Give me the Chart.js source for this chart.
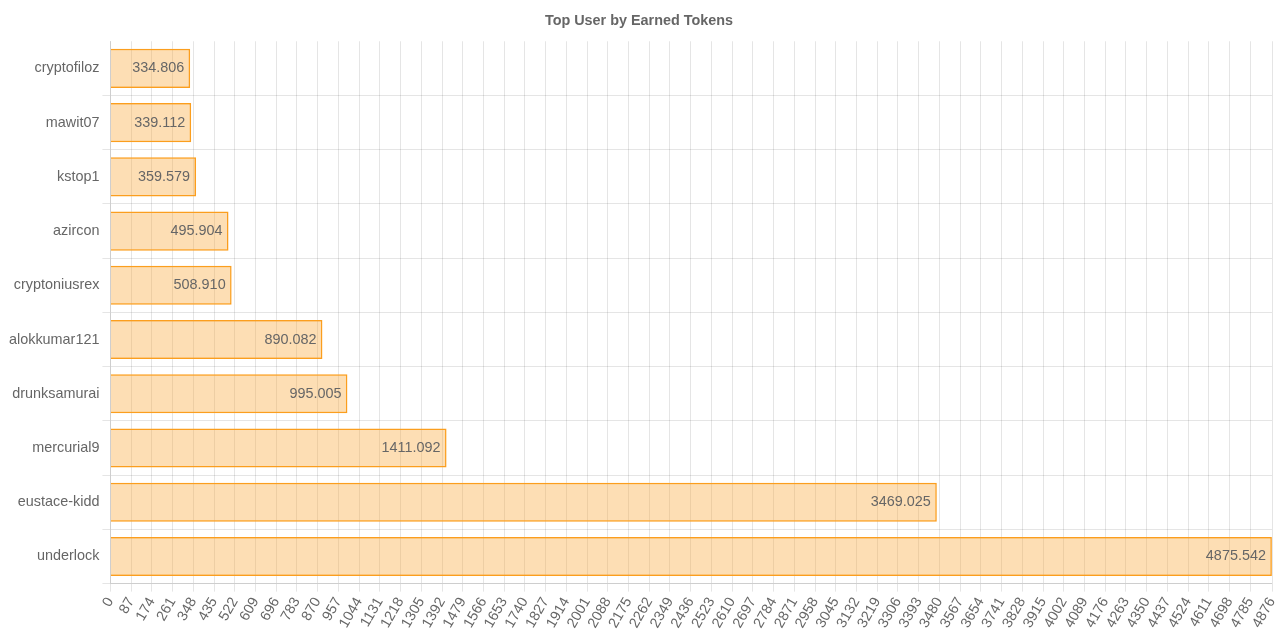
<!DOCTYPE html>
<html>
<head>
<meta charset="utf-8">
<script src="https://cdn.jsdelivr.net/npm/chart.js@4/dist/chart.umd.min.js"></script>
<style>
html,body{margin:0;padding:0;background:#fff;}
#wrap{width:1280px;height:640px;position:relative;}
</style>
</head>
<body>
<div id="wrap"><canvas id="c"></canvas></div>
<script>
const users = ['cryptofiloz','mawit07','kstop1','azircon','cryptoniusrex','alokkumar121','drunksamurai','mercurial9','eustace-kidd','underlock'];
const earned = [334.806, 339.112, 359.579, 495.904, 508.910, 890.082, 995.005, 1411.092, 3469.025, 4875.542];
const tickValues = [0,87,174,261,348,435,522,609,696,783,870,957,1044,1131,1218,1305,1392,1479,1566,1653,1740,1827,1914,2001,2088,2175,2262,2349,2436,2523,2610,2697,2784,2871,2958,3045,3132,3219,3306,3393,3480,3567,3654,3741,3828,3915,4002,4089,4176,4263,4350,4437,4524,4611,4698,4785,4876];

Chart.defaults.font.family = '"Liberation Sans", Arial, Helvetica, sans-serif';
const FS = 14.4;

const valueLabels = {
  id: 'valueLabels',
  afterDatasetsDraw(chart) {
    const ctx = chart.ctx;
    const meta = chart.getDatasetMeta(0);
    ctx.save();
    ctx.font = FS + 'px "Liberation Sans", Arial, sans-serif';
    ctx.fillStyle = '#666';
    ctx.textAlign = 'right';
    ctx.textBaseline = 'middle';
    meta.data.forEach((bar, i) => {
      const v = chart.data.datasets[0].data[i];
      ctx.fillText(v.toFixed(3), bar.x - 6, bar.y);
    });
    ctx.restore();
  }
};

new Chart(document.getElementById('c'), {
  type: 'bar',
  data: {
    labels: users,
    datasets: [{
      label: 'Earned Tokens',
      data: earned,
      backgroundColor: 'rgba(250,160,40,0.35)',
      borderColor: 'rgb(251,158,30)',
      borderWidth: 1.5
    }]
  },
  options: {
    indexAxis: 'y',
    responsive: true,
    maintainAspectRatio: false,
    animation: false,
    layout: { padding: { left: 6, right: 8, top: 0, bottom: 6 } },
    plugins: {
      legend: { display: false },
      tooltip: { enabled: false },
      title: {
        display: true,
        text: 'Top User by Earned Tokens',
        color: '#666',
        font: { size: FS, weight: 'bold' },
        padding: { top: 12, bottom: 12 }
      }
    },
    scales: {
      x: {
        min: 0,
        max: tickValues[tickValues.length - 1],
        afterBuildTicks(axis) {
          axis.ticks = tickValues.map(v => ({ value: v }));
        },
        afterFit(axis) {
          axis.paddingRight = 0;
        },
        ticks: {
          autoSkip: false,
          maxRotation: 60,
          minRotation: 60,
          color: '#666',
          font: { size: FS },
          callback: (v) => String(v)
        },
        grid: { color: 'rgba(0,0,0,0.1)' }
      },
      y: {
        ticks: { color: '#666', font: { size: FS } },
        grid: {
          color: (c) => (c.index === 0 ? 'rgba(0,0,0,0)' : 'rgba(0,0,0,0.1)')
        }
      }
    }
  },
  plugins: [valueLabels]
});
</script>
</body>
</html>
